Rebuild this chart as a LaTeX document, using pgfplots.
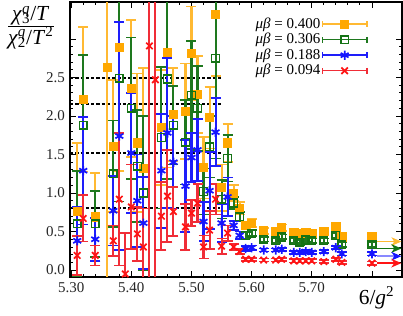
\documentclass[border=0pt]{standalone}
\usepackage{fontspec}
\setmainfont{Liberation Serif}
\usepackage{pgfplots}
\usepackage{pgfplotstable}
\pgfplotsset{compat=1.18}
\usetikzlibrary{arrows.meta}

\definecolor{cO}{RGB}{255,168,0}
\definecolor{cOe}{RGB}{255,185,50}
\definecolor{cG}{RGB}{20,115,20}
\definecolor{cGe}{RGB}{30,120,30}
\definecolor{cB}{RGB}{20,20,255}
\definecolor{cBe}{RGB}{30,30,250}
\definecolor{cR}{RGB}{255,20,20}
\definecolor{cRe}{RGB}{240,45,55}

\newcommand\tickfont{\fontsize{10.5}{12}\selectfont}
\newcommand\labfont{\fontsize{15}{17}\selectfont}
\newcommand\chiq[1]{\textit{χ}\rlap{\textsuperscript{\textit{q}}}\textsubscript{#1}}

\pgfplotstableread{
x y e
5.31 0.76 0.89
5.32 2.22 0.94
5.34 0.69 0.57
5.36 2.63 3.2
5.37 1.61 0.86
5.38 2.89 1.6
5.40 2.36 0.89
5.41 1.65 0.9
5.42 1.32 1.3
5.45 1.85 0.75
5.46 2.83 1.5
5.47 2.02 0.6
5.49 2.06 0.62
5.50 2.81 0.61
5.51 2.28 0.5
5.52 1.33 0.4
5.53 1.98 0.4
5.54 3.32 0.8
5.55 1.07 0.3
5.56 1.65 0.25
5.57 1.00 0.1
5.58 0.80 0.08
5.59 0.58 0.05
5.60 0.61 0.05
5.62 0.51 0.04
5.64 0.50 0.04
5.65 0.55 0.04
5.67 0.49 0.04
5.68 0.48 0.04
5.69 0.49 0.04
5.70 0.48 0.04
5.72 0.50 0.04
5.74 0.56 0.04
5.75 0.43 0.04
5.80 0.43 0.04
}\dataO

\pgfplotstableread{
x y e
5.31 0.60 0.69
5.32 1.88 0.91
5.34 0.60 0.43
5.37 1.25 0.69
5.38 2.49 1.6
5.40 2.10 0.92
5.41 1.35 0.73
5.42 1.00 1.0
5.45 1.72 0.92
5.46 2.48 1.3
5.47 1.88 0.51
5.49 1.66 0.55
5.50 2.27 0.7
5.51 2.10 0.55
5.52 1.02 0.3
5.53 1.60 0.4
5.54 2.75 1.3
5.55 0.92 0.25
5.56 1.45 0.3
5.57 0.87 0.08
5.58 0.69 0.06
5.59 0.45 0.04
5.60 0.48 0.04
5.62 0.40 0.03
5.64 0.38 0.03
5.65 0.43 0.03
5.67 0.38 0.03
5.68 0.36 0.03
5.69 0.39 0.03
5.70 0.38 0.03
5.72 0.38 0.03
5.74 0.45 0.03
5.75 0.33 0.03
5.80 0.33 0.03
}\dataG

\pgfplotstableread{
x y e
5.31 0.38 0.44
5.32 1.29 0.70
5.34 0.40 0.28
5.37 0.77 0.45
5.38 1.74 1.48
5.40 1.52 0.78
5.41 0.90 0.6
5.42 0.61 0.6
5.45 1.29 0.74
5.46 1.78 0.97
5.47 1.40 0.6
5.49 1.09 0.6
5.50 1.46 0.32
5.51 1.56 0.4
5.52 0.63 0.25
5.53 1.03 0.5
5.54 1.79 0.44
5.55 0.61 0.25
5.56 0.95 0.25
5.57 0.58 0.06
5.58 0.45 0.05
5.59 0.28 0.03
5.60 0.29 0.03
5.62 0.26 0.02
5.64 0.26 0.02
5.65 0.27 0.02
5.67 0.23 0.02
5.68 0.23 0.02
5.69 0.24 0.02
5.70 0.23 0.02
5.72 0.24 0.02
5.74 0.29 0.02
5.75 0.21 0.02
5.80 0.21 0.02
}\dataB

\pgfplotstableread{
x y e
5.31 0.19 0.25
5.32 0.67 0.30
5.34 0.19 0.13
5.37 0.38 0.2
5.38 0.92 0.86
5.39 -0.05 0.53
5.40 0.82 0.55
5.41 0.47 0.35
5.42 0.30 0.5
5.43 2.91 4.0
5.44 2.47 4.0
5.45 0.70 0.44
5.46 0.96 0.6
5.47 0.76 0.32
5.49 0.56 0.3
5.50 0.74 0.17
5.51 0.87 0.25
5.52 0.30 0.15
5.53 0.52 0.25
5.54 0.92 0.2
5.55 0.31 0.1
5.56 0.48 0.1
5.57 0.30 0.04
5.58 0.24 0.03
5.59 0.14 0.02
5.60 0.14 0.02
5.62 0.13 0.02
5.64 0.13 0.02
5.65 0.14 0.02
5.67 0.12 0.02
5.68 0.12 0.02
5.69 0.12 0.02
5.70 0.12 0.02
5.72 0.11 0.02
5.74 0.14 0.02
5.75 0.10 0.02
5.80 0.09 0.02
}\dataR

\pgfplotsset{
  ebar/.style={only marks,
    error bars/.cd, y dir=both, y explicit,
    error bar style={line width=1.45pt, draw=#1, solid},
    error mark options={rotate=90, mark size=3.5pt, line width=1.2pt, draw=#1},
    /pgfplots/.cd},
  refline/.style={black, line width=1.3pt, dash pattern=on 2.3pt off 1.4pt, forget plot},
}

\begin{document}
\begin{tikzpicture}
\begin{axis}[
  scale only axis, width=232.4pt, height=192.5pt,
  xmin=5.298, xmax=5.85, ymin=-0.09, ymax=3.48,
  xtick={5.3,5.4,5.5,5.6,5.7,5.8},
  xticklabels={5.30,5.40,5.50,5.60,5.70,{}},
  ytick={0,0.5,1,1.5,2,2.5,3},
  yticklabels={0.0,0.5,1.0,1.5,2.0,2.5,{}},
  minor x tick num=4, minor y tick num=4,
  tick align=inside, major tick length=4pt, minor tick length=2pt,
  tick style={black, line width=0.6pt},
  axis line style={line width=0.8pt},
  tick label style={font=\tickfont, text=black!85},
  xlabel={6/\textit{g}\textsuperscript{2}},
  xlabel style={font=\labfont, at={(axis description cs:0.978,-0.035)}, anchor=north east, inner sep=0pt},
  ylabel={$\textstyle\frac{\mbox{\chiq{3}/\textit{T}}}{\mbox{\chiq{2}/\textit{T}\textsuperscript{2}}}$},
  ylabel style={font=\labfont, rotate=-90, at={(axis description cs:-0.118,0.907)}, anchor=center, inner sep=0pt},
  legend plot pos=right,
  legend cell align=right,
  legend style={draw=none, fill=none, font=\tickfont, at={(0.912,0.962)}, anchor=north east,
    row sep=-1pt, nodes={inner ysep=1.5pt, inner xsep=0.5pt}},
]
% dashed reference lines
\addplot[refline] coordinates {(5.298,2.49) (5.552,2.49)};
\addplot[refline] coordinates {(5.298,2.16) (5.552,2.16)};
\addplot[refline] coordinates {(5.298,1.52) (5.552,1.52)};
\addplot[refline] coordinates {(5.298,0.81) (5.548,0.81)};

\addplot[color=cOe, mark=square*, mark size=2.9pt, mark options={draw=cO, fill=cO, line width=0.5pt},
  legend image code/.code={\draw[cOe, line width=1pt, {Bar[width=4pt]}-{Bar[width=4pt]}] (0pt,0pt)--(32pt,0pt);
    \draw[cO, fill=cO, mark=square*, mark size=2.8pt] plot coordinates {(16pt,0pt)};}, ebar=cOe]
  table[x=x, y=y, y error=e] {\dataO};
\addlegendentry{\textit{μβ} = 0.400}
\addplot[color=cGe, mark=square, mark size=2.7pt, mark options={draw=cG, line width=1pt},
  legend image code/.code={\draw[cGe, line width=1pt, {Bar[width=4pt]}-{Bar[width=4pt]}] (0pt,0pt)--(32pt,0pt);
    \draw[cG, mark=square, mark size=2.7pt, line width=1pt, fill=white] plot coordinates {(16pt,0pt)};}, ebar=cGe]
  table[x=x, y=y, y error=e] {\dataG};
\addlegendentry{\textit{μβ} = 0.306}
\addplot[color=cBe, mark=asterisk, mark size=3.2pt, mark options={draw=cB, line width=1.2pt},
  legend image code/.code={\draw[cBe, line width=1pt, {Bar[width=4pt]}-{Bar[width=4pt]}] (0pt,0pt)--(32pt,0pt);
    \draw[cB, mark=asterisk, mark size=3.2pt, line width=1.2pt] plot coordinates {(16pt,0pt)};}, ebar=cBe]
  table[x=x, y=y, y error=e] {\dataB};
\addlegendentry{\textit{μβ} = 0.188}
\addplot[color=cRe, mark=x, mark size=3.2pt, mark options={draw=cR, line width=1.2pt},
  legend image code/.code={\draw[cRe, line width=1pt, {Bar[width=4pt]}-{Bar[width=4pt]}] (0pt,0pt)--(32pt,0pt);
    \draw[cR, mark=x, mark size=3.2pt, line width=1.2pt] plot coordinates {(16pt,0pt)};}, ebar=cRe]
  table[x=x, y=y, y error=e] {\dataR};
\addlegendentry{\textit{μβ} = 0.094}

% limit arrows at the right edge
\addplot[cOe, line width=0.8pt, -{Stealth[length=7pt,width=6pt,inset=2pt]}, forget plot] coordinates {(5.808,0.37) (5.849,0.37)};
\addplot[cG, line width=1.2pt, -{Stealth[length=7pt,width=6pt,inset=2pt]}, forget plot] coordinates {(5.808,0.28) (5.849,0.28)};
\addplot[cB!50, line width=1pt, -{Stealth[length=7pt,width=6pt,inset=2pt,fill=cB,color=cB]}, forget plot] coordinates {(5.808,0.18) (5.849,0.18)};
\addplot[cR, line width=1.2pt, -{Stealth[length=7pt,width=6pt,inset=2pt]}, forget plot] coordinates {(5.808,0.09) (5.849,0.09)};

\coordinate (sw) at (rel axis cs:0,0);
\coordinate (ne) at (rel axis cs:1,1);
\end{axis}
\pgfresetboundingbox
\path ([shift={(-49pt,-26.6pt)}]sw) rectangle ([shift={(0.7pt,1.4pt)}]ne);
\end{tikzpicture}
\end{document}
